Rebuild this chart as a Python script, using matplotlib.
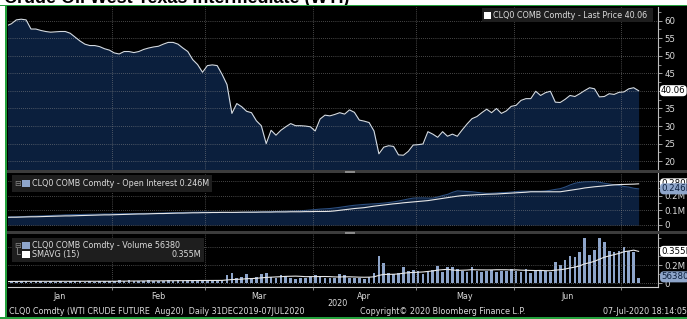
import matplotlib
matplotlib.use('Agg')
import matplotlib.pyplot as plt
import numpy as np
import pandas as pd
from matplotlib.patches import Rectangle

# ---------------- data ----------------
title = "Crude Oil West Texas Intermediate (WTI)"
start_date, end_date = '2019-12-31', '2020-07-07'
holidays = ['2020-01-01', '2020-01-20', '2020-02-17', '2020-04-10', '2020-05-25', '2020-07-03']

price = [58.5, 59.1, 60.2, 60.4, 60.2, 57.6, 57.6, 57.2, 56.9, 56.7,
         56.8, 56.9, 56.9, 56.4, 55.3, 54.2, 53.3, 52.9, 52.9, 52.6,
         52.0, 51.6, 50.8, 50.5, 51.2, 51.2, 50.9, 51.2, 51.8, 52.2,
         52.5, 52.7, 53.3, 53.8, 53.8, 53.3, 52.2, 51.2, 48.9, 47.5,
         45.3, 47.2, 47.4, 47.2, 44.7, 41.8, 33.6, 36.4, 35.5, 34.2,
         33.8, 31.5, 30.1, 25.0, 28.8, 27.4, 28.8, 29.8, 30.7, 30.1,
         30.1, 30.0, 29.8, 28.6, 32.0, 33.1, 32.9, 33.3, 33.8, 33.4,
         34.6, 33.9, 31.7, 31.4, 31.0, 28.6, 22.1, 24.0, 24.4, 24.2,
         21.8, 21.7, 22.8, 24.6, 24.7, 24.9, 28.4, 27.7, 26.8, 28.4,
         27.1, 27.7, 27.1, 28.9, 30.6, 32.1, 32.7, 33.8, 34.8, 33.8,
         35.0, 33.6, 34.3, 35.6, 35.9, 37.3, 37.8, 37.8, 39.9, 38.7,
         39.5, 39.9, 36.8, 36.7, 37.6, 38.7, 38.4, 39.2, 40.1, 40.9,
         40.6, 38.3, 38.4, 39.2, 39.0, 39.6, 39.7, 40.6, 40.9, 40.06]

# open interest (millions)
open_interest = [0.054, 0.055, 0.056, 0.057, 0.058, 0.060, 0.061, 0.062, 0.063, 0.064,
                 0.066, 0.067, 0.069, 0.070, 0.071, 0.071, 0.072, 0.073, 0.073, 0.074,
                 0.075, 0.075, 0.076, 0.076, 0.077, 0.077, 0.078, 0.078, 0.079, 0.079,
                 0.080, 0.081, 0.082, 0.083, 0.084, 0.084, 0.085, 0.086, 0.087, 0.088,
                 0.088, 0.088, 0.087, 0.087, 0.086, 0.086, 0.085, 0.086, 0.086, 0.087,
                 0.088, 0.089, 0.089, 0.090, 0.091, 0.092, 0.093, 0.094, 0.095, 0.096,
                 0.097, 0.099, 0.102, 0.105, 0.108, 0.110, 0.112, 0.116, 0.120, 0.125,
                 0.130, 0.134, 0.137, 0.140, 0.142, 0.144, 0.146, 0.149, 0.153, 0.157,
                 0.163, 0.170, 0.177, 0.183, 0.184, 0.184, 0.183, 0.183, 0.190, 0.200,
                 0.208, 0.222, 0.232, 0.230, 0.228, 0.226, 0.222, 0.218, 0.215, 0.216,
                 0.218, 0.220, 0.221, 0.224, 0.227, 0.230, 0.230, 0.230, 0.230, 0.230,
                 0.232, 0.236, 0.242, 0.247, 0.258, 0.272, 0.284, 0.290, 0.293, 0.294,
                 0.295, 0.291, 0.284, 0.279, 0.274, 0.269, 0.262, 0.258, 0.250, 0.246]

oi_line = [0.052, 0.053, 0.053, 0.054, 0.055, 0.056, 0.056, 0.057, 0.058, 0.059,
           0.060, 0.061, 0.062, 0.062, 0.063, 0.064, 0.065, 0.066, 0.067, 0.068,
           0.069, 0.069, 0.070, 0.071, 0.072, 0.073, 0.074, 0.075, 0.075, 0.076,
           0.077, 0.078, 0.078, 0.079, 0.080, 0.081, 0.081, 0.082, 0.083, 0.083,
           0.084, 0.084, 0.085, 0.085, 0.086, 0.086, 0.086, 0.086, 0.087, 0.087,
           0.087, 0.087, 0.088, 0.088, 0.088, 0.089, 0.089, 0.089, 0.090, 0.090,
           0.090, 0.091, 0.091, 0.092, 0.092, 0.092, 0.093, 0.096, 0.100, 0.104,
           0.108, 0.112, 0.115, 0.118, 0.123, 0.128, 0.132, 0.136, 0.140, 0.144,
           0.147, 0.151, 0.154, 0.157, 0.160, 0.163, 0.166, 0.171, 0.176, 0.181,
           0.186, 0.191, 0.196, 0.200, 0.202, 0.204, 0.206, 0.207, 0.209, 0.210,
           0.211, 0.213, 0.215, 0.217, 0.219, 0.221, 0.223, 0.226, 0.226, 0.226,
           0.226, 0.226, 0.226, 0.226, 0.231, 0.236, 0.241, 0.246, 0.252, 0.256,
           0.260, 0.263, 0.266, 0.270, 0.273, 0.275, 0.276, 0.277, 0.278, 0.280]

# volume (millions)
volume = [0.018, 0.024, 0.020, 0.026, 0.022, 0.019, 0.024, 0.021, 0.018, 0.023,
          0.020, 0.025, 0.019, 0.022, 0.026, 0.021, 0.018, 0.024, 0.020, 0.023,
          0.025, 0.030, 0.026, 0.032, 0.028, 0.034, 0.027, 0.031, 0.026, 0.033,
          0.029, 0.031, 0.027, 0.035, 0.030, 0.032, 0.027, 0.034, 0.036, 0.029,
          0.037, 0.031, 0.035, 0.030, 0.038, 0.095, 0.110, 0.060, 0.070, 0.100,
          0.055, 0.075, 0.105, 0.110, 0.065, 0.060, 0.095, 0.085, 0.060, 0.050,
          0.060, 0.055, 0.070, 0.095, 0.085, 0.060, 0.056, 0.056, 0.100, 0.097,
          0.060, 0.060, 0.060, 0.045, 0.067, 0.110, 0.300, 0.226, 0.110, 0.100,
          0.110, 0.178, 0.140, 0.146, 0.140, 0.100, 0.140, 0.146, 0.189, 0.130,
          0.178, 0.185, 0.160, 0.140, 0.130, 0.178, 0.140, 0.130, 0.140, 0.146,
          0.130, 0.140, 0.140, 0.160, 0.140, 0.130, 0.160, 0.120, 0.140, 0.146,
          0.140, 0.130, 0.233, 0.207, 0.260, 0.307, 0.289, 0.344, 0.504, 0.318,
          0.374, 0.504, 0.456, 0.356, 0.344, 0.356, 0.407, 0.356, 0.350, 0.05638]
sma_window = 15

month_labels = ['Jan', 'Feb', 'Mar', 'Apr', 'May', 'Jun']
year_label = '2020'
price_ticks = [20, 25, 30, 35, 40, 45, 50, 55, 60]
price_tick_labels = ['20', '25', '30', '35', '', '45', '50', '55', '60']   # 40 hidden by value box
oi_ticks = [0, 0.1, 0.2, 0.3]
oi_tick_labels = ['0', '0.1M', '0.2M', '']                               # 0.3M hidden by value boxes
vol_ticks = [0, 0.2, 0.4]
vol_tick_labels = ['0', '0.2M', '']                                      # 0.4M hidden by value box

legend_price = 'CLQ0 COMB Comdty - Last Price 40.06'
legend_oi = 'CLQ0 COMB Comdty - Open Interest 0.246M'
legend_vol = 'CLQ0 COMB Comdty - Volume 56380'
legend_sma = 'SMAVG (15)'
footer_left = 'CLQ0 Comdty (WTI CRUDE FUTURE  Aug20)  Daily 31DEC2019-07JUL2020'
footer_mid = 'Copyright\u00a9 2020 Bloomberg Finance L.P.'
footer_right = '07-Jul-2020 18:14:05'

# ---------------- derived ----------------
dates = pd.bdate_range(start_date, end_date)
dates = dates[~dates.isin(pd.to_datetime(holidays))]
x = np.arange(len(dates))
sma = pd.Series(volume).rolling(sma_window, min_periods=1).mean().values

months = dates.to_period('M')
first_idx = [int(np.argmax(months == m)) for m in months.unique()]
bounds = [i - 0.5 for i in first_idx[2:]]          # month boundaries Feb..Jul

# ---------------- figure ----------------
W, H = 687, 319
fig = plt.figure(figsize=(W / 100, H / 100), dpi=100)
fig.patch.set_facecolor('white')
FONT = 'DejaVu Sans'
FS = 5.8
TFS = 6.2
TXT = '#dcdcdc'
NAVY = '#0b1f3d'
GREEN = '#23a03c'
BLUE = '#8ea5ca'


def fx(px):
    return px / W


def fy(py):
    return 1 - py / H


def rect(x0, y0, x1, y1, color, z=1):
    fig.add_artist(Rectangle((fx(x0), fy(y1)), fx(x1) - fx(x0), fy(y0) - fy(y1),
                             transform=fig.transFigure, facecolor=color,
                             edgecolor='none', zorder=z))


# black background and green frame
rect(7, 6, W + 1, 317, 'black', z=-2)
rect(0, 4.6, W + 1, 6.4, GREEN, z=5)
rect(5.2, 5, 7.2, H, GREEN, z=5)
rect(0, 317, W + 1, H + 1, GREEN, z=5)
fig.text(fx(4), fy(2.6), title, fontsize=13, fontweight='bold',
         family='Liberation Sans', va='baseline', ha='left', color='black', zorder=4)

# separators
rect(7, 170, W + 1, 173, '#3c3c3c', z=2)
rect(7, 231, W + 1, 234, '#3c3c3c', z=2)
rect(345, 170.5, 355, 172.5, '#8a8a8a', z=3)
rect(345, 231.5, 355, 233.5, '#8a8a8a', z=3)

XL, XR = 8, 658
x0px, step = 6.5, 4.9
xlim = ((XL - x0px) / step, (XR - x0px) / step)


def make_ax(top, bottom):
    ax = fig.add_axes([fx(XL), fy(bottom), fx(XR) - fx(XL), fy(top) - fy(bottom)])
    ax.set_facecolor('black')
    for s in ['top', 'left', 'bottom']:
        ax.spines[s].set_visible(False)
    ax.spines['right'].set_color('#bdbdbd')
    ax.spines['right'].set_linewidth(0.8)
    ax.yaxis.tick_right()
    ax.tick_params(axis='y', which='major', colors='#bdbdbd', labelcolor=TXT,
                   labelsize=TFS, length=3, width=0.6, pad=1.5, direction='out')
    ax.tick_params(axis='y', which='minor', colors='#bdbdbd', length=1.8, width=0.5,
                   direction='out')
    ax.set_xlim(*xlim)
    ax.set_xticks(bounds)
    ax.tick_params(axis='x', which='major', length=0, labelbottom=False)
    ax.grid(True, which='major', color='#8a8a8a', linestyle=(0, (1, 2)), linewidth=0.5)
    ax.set_axisbelow(False)
    return ax


# ---- price panel ----
ax1 = make_ax(7, 170)
p_top = 60 + (20.7 - 7) / 3.54
p_bot = 60 - (170 - 20.7) / 3.54
ax1.fill_between(x, price, 0, color=NAVY, lw=0, zorder=1)
ax1.plot(x, price, color='#d4dbe3', lw=0.8, zorder=3)
ax1.set_ylim(p_bot, p_top)
ax1.set_yticks(price_ticks)
ax1.set_yticklabels(price_tick_labels, family=FONT)
ax1.set_yticks(np.arange(17.5, 64, 2.5), minor=True)

# ---- open interest panel ----
ax2 = make_ax(173, 231)
o_top = (225 - 173) / 147
o_bot = (225 - 231) / 147
ax2.fill_between(x, open_interest, 0, color=NAVY, lw=0, zorder=1)
ax2.plot(x, open_interest, color='#2c4f80', lw=0.8, zorder=2)
ax2.plot(x, oi_line, color='#e6e6e6', lw=0.8, zorder=3)
ax2.set_ylim(o_bot, o_top)
ax2.set_yticks(oi_ticks)
ax2.set_yticklabels(oi_tick_labels, family=FONT)
ax2.set_yticks([0.05, 0.15, 0.25], minor=True)

# ---- volume panel ----
ax3 = make_ax(234, 286.5)
v_top = (283.3 - 234) / 90
v_bot = (283.3 - 286.5) / 90
ax3.bar(x, volume, width=0.55, color=BLUE, lw=0, zorder=2)
ax3.plot(x, sma, color='#e6e6e6', lw=0.8, zorder=3)
ax3.set_ylim(v_bot, v_top)
ax3.set_yticks(vol_ticks)
ax3.set_yticklabels(vol_tick_labels, family=FONT)
ax3.set_yticks([0.1, 0.3, 0.5], minor=True)
ax3.spines['bottom'].set_visible(True)
ax3.spines['bottom'].set_color('#cfcfcf')
ax3.spines['bottom'].set_linewidth(0.8)
ax3.tick_params(axis='x', which='major', length=2.5, width=0.6, color='#9a9a9a',
                direction='out')
edges = [xlim[0]] + bounds
mids = [(edges[i] + edges[i + 1]) / 2 for i in range(len(month_labels))]
ax3.set_xticks(mids, minor=True)
ax3.set_xticklabels(month_labels, minor=True, family=FONT, fontsize=FS, color=TXT)
ax3.tick_params(axis='x', which='minor', length=0, pad=4.2)
fig.text(fx(337), fy(303.5), year_label, fontsize=FS, color=TXT, family=FONT,
         ha='center', va='center')


# ---- value boxes at right ----
def value_box(ax, val, text, fc, tc, dy=0):
    ax.annotate(text, xy=(1, val), xycoords=('axes fraction', 'data'),
                xytext=(2.2, dy), textcoords='offset points', va='center', ha='left',
                fontsize=TFS, family=FONT, color=tc, annotation_clip=False, zorder=10,
                bbox=dict(boxstyle='round,pad=0.12,rounding_size=0.45', fc=fc, ec='none'))


value_box(ax1, price[-1], f'{price[-1]:.2f}', 'white', 'black')
value_box(ax2, oi_line[-1], f'{oi_line[-1]:.3f}M', 'white', 'black')
value_box(ax2, open_interest[-1], f'{open_interest[-1]:.3f}M', BLUE, NAVY)
value_box(ax3, sma[-1], f'{sma[-1]:.3f}M', 'white', 'black')
value_box(ax3, volume[-1], f'{volume[-1] * 1e6:.0f}', BLUE, NAVY, dy=1.0)

# ---- legends ----
LEG = '#1e1e1e'
rect(482, 8, 653, 22, LEG, z=6)
rect(484, 11.5, 491, 18.5, 'white', z=7)
fig.text(fx(493), fy(15.2), legend_price, fontsize=FS, family=FONT, color=TXT,
         va='center', ha='left', zorder=8)

rect(12, 175, 212, 192, LEG, z=6)
fig.text(fx(14.5), fy(183.5), '\u229f', fontsize=FS, family=FONT, color='#8a8a8a',
         va='center', ha='left', zorder=8)
rect(22, 180, 30, 187, BLUE, z=7)
fig.text(fx(32), fy(183.7), legend_oi, fontsize=FS, family=FONT, color=TXT,
         va='center', ha='left', zorder=8)

rect(12, 238, 204, 262, LEG, z=6)
fig.text(fx(14.5), fy(245), '\u229f', fontsize=FS, family=FONT, color='#8a8a8a',
         va='center', ha='left', zorder=8)
fig.add_artist(plt.Line2D([fx(16.5), fx(16.5), fx(20)], [fy(248), fy(254), fy(254)],
                          transform=fig.transFigure, color='#8a8a8a', lw=0.6, zorder=8))
rect(22, 241.5, 30, 248.5, BLUE, z=7)
fig.text(fx(32), fy(245.2), legend_vol, fontsize=FS, family=FONT, color=TXT,
         va='center', ha='left', zorder=8)
rect(22, 250.5, 30, 257.5, 'white', z=7)
fig.text(fx(32), fy(254.2), legend_sma, fontsize=FS, family=FONT, color=TXT,
         va='center', ha='left', zorder=8)
fig.text(fx(201), fy(254.2), f'{sma[-1]:.3f}M', fontsize=FS, family=FONT, color=TXT,
         va='center', ha='right', zorder=8)

# ---- footer ----
fig.text(fx(9), fy(312), footer_left, fontsize=FS, family=FONT, color=TXT, va='center', ha='left')
fig.text(fx(360), fy(312), footer_mid, fontsize=FS, family=FONT, color=TXT, va='center', ha='left')
fig.text(fx(603), fy(312), footer_right, fontsize=FS, family=FONT, color=TXT, va='center', ha='left')

fig.savefig('out.png', dpi=100, facecolor='white')
